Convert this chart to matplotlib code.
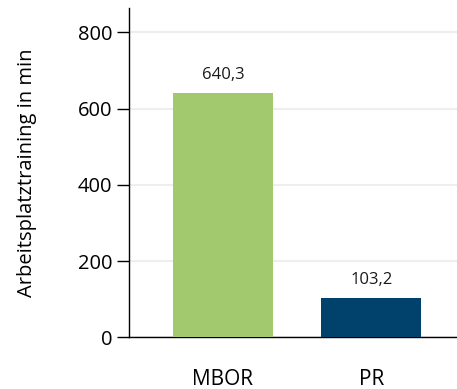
import matplotlib
matplotlib.use("Agg")
import matplotlib.pyplot as plt

categories = ["MBOR", "PR"]
values = [640.3, 103.2]
value_labels = ["640,3", "103,2"]
colors = ["#a3c96e", "#00426b"]
yticks = [0, 200, 400, 600, 800]

plt.rcParams["font.family"] = ["Open Sans", "DejaVu Sans"]

fig = plt.figure(figsize=(4.57, 3.89), dpi=100)
ax = fig.add_axes([0.282, 0.1324, 0.718, 0.8470])

x = list(range(len(categories)))
ax.bar(x, values, width=0.673, color=colors, zorder=3)
for xi, v, lab in zip(x, values, value_labels):
    ax.text(xi, v + 26, lab, ha="center", va="bottom", fontsize=12, color="#1a1a1a", zorder=4)

ax.set_xlim(-0.633, 1.576)
ax.set_ylim(0, 864)
ax.set_yticks(yticks)
ax.set_yticklabels([str(t) for t in yticks], fontsize=14.5)
ax.set_xticks(x)
ax.set_xticklabels(categories, fontsize=15)
ax.tick_params(axis="x", length=0, pad=23)
ax.tick_params(axis="y", length=9, width=1, pad=3)
ax.yaxis.grid(True, color="#eeeeee", linewidth=1.5, zorder=0)
ax.set_axisbelow(True)
for s in ["top", "right"]:
    ax.spines[s].set_visible(False)
ax.spines["left"].set_linewidth(1)
ax.spines["bottom"].set_linewidth(1)
ax.set_ylabel("Arbeitsplatztraining in min", fontsize=14.5, labelpad=29)

fig.savefig("out.png", dpi=100)
